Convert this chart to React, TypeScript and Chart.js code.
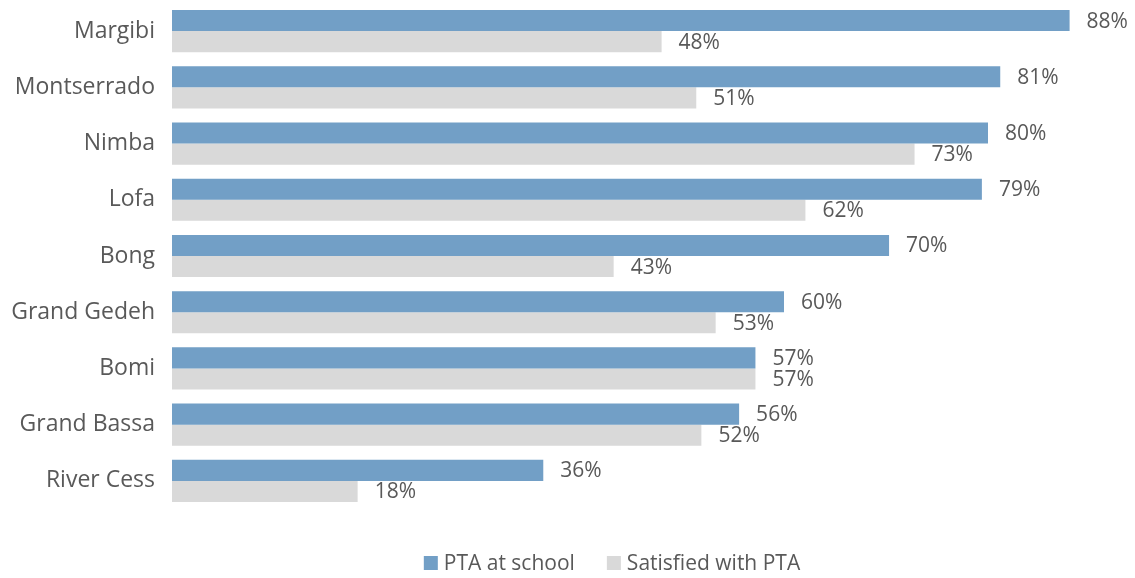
import React, { useEffect, useRef } from "react";
import { Chart, registerables } from "chart.js";

Chart.register(...registerables);

const categories = ["Margibi", "Montserrado", "Nimba", "Lofa", "Bong", "Grand Gedeh", "Bomi", "Grand Bassa", "River Cess"];
const ptaAtSchool = [88.0, 81.2, 80.0, 79.4, 70.3, 60.0, 57.2, 55.6, 36.4];
const satisfiedWithPta = [48.0, 51.4, 72.8, 62.1, 43.3, 53.3, 57.2, 51.9, 18.2];
const seriesNames = ["PTA at school", "Satisfied with PTA"];

const BLUE = "#729FC6";
const GRAY = "#D9D9D9";
const TEXT = "#595959";
const FONT = "'Open Sans', sans-serif";

const valueLabels = {
  id: "valueLabels",
  afterDatasetsDraw(chart: any) {
    const ctx = chart.ctx;
    ctx.save();
    ctx.font = `21px ${FONT}`;
    ctx.fillStyle = TEXT;
    ctx.textAlign = "left";
    ctx.textBaseline = "middle";
    chart.data.datasets.forEach((ds: any, di: number) => {
      const meta = chart.getDatasetMeta(di);
      meta.data.forEach((el: any, i: number) => {
        ctx.fillText(Math.round(ds.data[i]) + "%", el.x + 17, el.y + 1);
      });
    });
    ctx.restore();
  },
};

const bottomLegend = {
  id: "bottomLegend",
  afterDraw(chart: any) {
    const ctx = chart.ctx;
    const colors = chart.data.datasets.map((d: any) => d.backgroundColor);
    const names = chart.data.datasets.map((d: any) => d.label);
    ctx.save();
    ctx.font = `21px ${FONT}`;
    ctx.textBaseline = "middle";
    ctx.textAlign = "left";
    const box = 14;
    const gap = 6;
    const itemGap = 32;
    const widths = names.map((n: string) => box + gap + ctx.measureText(n).width);
    const total = widths.reduce((a: number, b: number) => a + b, 0) + itemGap * (names.length - 1);
    let x = 612 - total / 2;
    const cy = 563;
    names.forEach((n: string, i: number) => {
      ctx.fillStyle = colors[i];
      ctx.fillRect(x, cy - box / 2, box, box);
      ctx.fillStyle = TEXT;
      ctx.fillText(n, x + box + gap, cy + 1);
      x += widths[i] + itemGap;
    });
    ctx.restore();
  },
};

export default function App() {
  const ref = useRef<HTMLCanvasElement>(null);
  useEffect(() => {
    document.body.style.margin = "0";
    const chart = new Chart(ref.current!, {
      type: "bar",
      data: {
        labels: categories,
        datasets: [
          { label: seriesNames[0], data: ptaAtSchool, backgroundColor: BLUE },
          { label: seriesNames[1], data: satisfiedWithPta, backgroundColor: GRAY },
        ],
      },
      options: {
        indexAxis: "y",
        responsive: false,
        animation: false,
        categoryPercentage: 0.75,
        barPercentage: 1.0,
        layout: { padding: { left: 0, right: 45, top: 3, bottom: 69 } },
        scales: {
          x: { display: false, min: 0, max: 90 },
          y: {
            grid: { display: false, drawTicks: false },
            border: { display: false },
            ticks: { color: TEXT, font: { family: FONT, size: 23 }, padding: 17 },
            afterFit(scale: any) {
              scale.width = 172;
              scale.paddingTop = 0;
              scale.paddingBottom = 0;
            },
          },
        },
        plugins: {
          legend: { display: false },
          tooltip: { enabled: false },
        },
      } as any,
      plugins: [valueLabels, bottomLegend],
    });
    return () => chart.destroy();
  }, []);
  return <canvas ref={ref} width={1135} height={578} style={{ display: "block" }} />;
}
